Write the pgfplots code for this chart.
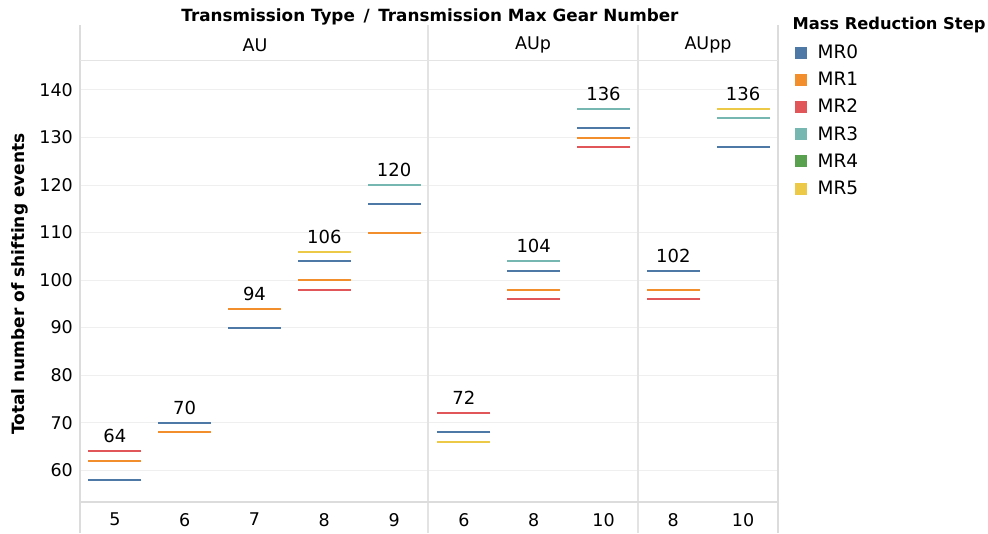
\documentclass[border=0pt]{standalone}
\usepackage{fontspec}
\setmainfont{DejaVu Sans}
\usepackage{pgfplots}
\pgfplotsset{compat=1.18}
\definecolor{c0}{HTML}{4E79A7}
\definecolor{c1}{HTML}{F28E2B}
\definecolor{c2}{HTML}{E15759}
\definecolor{c3}{HTML}{76B7B2}
\definecolor{c4}{HTML}{59A14F}
\definecolor{c5}{HTML}{EDC948}
\definecolor{gridc}{HTML}{EFEFEF}
\definecolor{borderc}{HTML}{DCDCDC}
\begin{document}
\begin{tikzpicture}
\useasboundingbox (0,0) rectangle (988pt,533pt);
\begin{axis}[
  at={(80pt,31pt)}, anchor=south west,
  width=698pt, height=441pt, scale only axis,
  xmin=0, xmax=10, ymin=53.3, ymax=146.1,
  axis line style={draw=none},
  tick style={draw=none},
  ytick={60,70,...,140},
  ymajorgrids, major grid style={draw=gridc, line width=1pt},
  xtick={0.5,1.5,...,9.5},
  xticklabels={5,6,7,8,9,6,8,10,8,10},
  /pgf/number format/assume math mode=true,
  /pgf/number format/1000 sep={},
  ticklabel style={font=\fontsize{17.5}{20}\selectfont, inner sep=0pt},
  yticklabel style={anchor=east, xshift=-7pt},
  xticklabel style={anchor=north, yshift=-11pt},
  legend style={at={(axis description cs:1.0244,1.051)}, anchor=north west,
    draw=none, fill=none, inner sep=0pt, row sep=0pt, column sep=11pt,
    nodes={inner sep=0pt, minimum height=27.2pt, font=\fontsize{18.5}{20}\selectfont}},
  legend cell align=left,
  clip=false,
]
\addlegendimage{legend image code/.code={\fill[c0] (0pt,-5.5pt) rectangle (11pt,5.5pt);}}
\addlegendentry{MR0}
\addlegendimage{legend image code/.code={\fill[c1] (0pt,-5.5pt) rectangle (11pt,5.5pt);}}
\addlegendentry{MR1}
\addlegendimage{legend image code/.code={\fill[c2] (0pt,-5.5pt) rectangle (11pt,5.5pt);}}
\addlegendentry{MR2}
\addlegendimage{legend image code/.code={\fill[c3] (0pt,-5.5pt) rectangle (11pt,5.5pt);}}
\addlegendentry{MR3}
\addlegendimage{legend image code/.code={\fill[c4] (0pt,-5.5pt) rectangle (11pt,5.5pt);}}
\addlegendentry{MR4}
\addlegendimage{legend image code/.code={\fill[c5] (0pt,-5.5pt) rectangle (11pt,5.5pt);}}
\addlegendentry{MR5}
% MR0
\addplot[forget plot, only marks, mark=-, mark size=26.5pt, mark options={draw=c0, line width=2pt}]
  coordinates {(0.5,58) (1.5,70) (2.5,90) (3.5,104) (4.5,116) (5.5,68) (6.5,102) (7.5,132) (8.5,102) (9.5,128)};
% MR1
\addplot[forget plot, only marks, mark=-, mark size=26.5pt, mark options={draw=c1, line width=2pt}]
  coordinates {(0.5,62) (1.5,68) (2.5,94) (3.5,100) (4.5,110) (6.5,98) (7.5,130) (8.5,98)};
% MR2
\addplot[forget plot, only marks, mark=-, mark size=26.5pt, mark options={draw=c2, line width=2pt}]
  coordinates {(0.5,64) (3.5,98) (5.5,72) (6.5,96) (7.5,128) (8.5,96)};
% MR3
\addplot[forget plot, only marks, mark=-, mark size=26.5pt, mark options={draw=c3, line width=2pt}]
  coordinates {(4.5,120) (6.5,104) (7.5,136) (9.5,134)};
% MR5
\addplot[forget plot, only marks, mark=-, mark size=26.5pt, mark options={draw=c5, line width=2pt}]
  coordinates {(3.5,106) (5.5,66) (9.5,136)};
% totals
\addplot[forget plot, draw=none, mark=none, nodes near coords,
  every node near coord/.append style={font=\fontsize{18}{20}\selectfont, anchor=south, inner sep=0pt, yshift=8pt, text=black}]
  coordinates {(0.5,64) (1.5,70) (2.5,94) (3.5,106) (4.5,120) (5.5,72) (6.5,104) (7.5,136) (8.5,102) (9.5,136)};
\end{axis}
% frame and panel dividers
\draw[borderc, line width=1.5pt] (80pt,0pt) -- (80pt,508pt);
\draw[borderc, line width=1.5pt] (778pt,0pt) -- (778pt,508pt);
\draw[borderc!80, line width=1.2pt] (428pt,0pt) -- (428pt,508pt);
\draw[borderc!80, line width=1.2pt] (638pt,0pt) -- (638pt,508pt);
\draw[gridc!90!gray, line width=1pt] (80pt,472pt) -- (778pt,472pt);
\draw[borderc, line width=2pt] (80pt,31pt) -- (778pt,31pt);
% headers
\node[font=\bfseries\fontsize{16.8}{18}\selectfont] at (430pt,516pt) {Transmission Type \,/\, Transmission Max Gear Number};
\node[font=\fontsize{17.5}{20}\selectfont] at (255pt,488pt) {AU};
\node[font=\fontsize{17.5}{20}\selectfont] at (533pt,488pt) {AUp};
\node[font=\fontsize{17.5}{20}\selectfont] at (708pt,488pt) {AUpp};
\node[font=\bfseries\fontsize{17}{18}\selectfont, rotate=90] at (20pt,249pt) {Total number of shifting events};
\node[font=\bfseries\fontsize{16.3}{18}\selectfont, anchor=west] at (789pt,508pt) {Mass Reduction Step};
\end{tikzpicture}
\end{document}
